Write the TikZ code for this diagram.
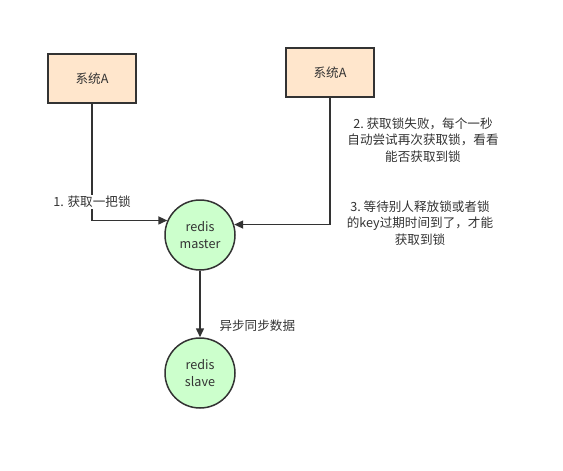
\documentclass[tikz,border=0pt]{standalone}
\usepackage{fontspec}
\setmainfont{Noto Sans CJK SC}
\usepackage{xcolor}
\usepackage{tikz}
\usetikzlibrary{arrows.meta}

\definecolor{boxfill}{HTML}{FFE6CC}
\definecolor{nodefill}{HTML}{CCFFCC}
\definecolor{linegray}{HTML}{333333}

\begin{document}
\begin{tikzpicture}[x=1pt,y=-1pt,
        >={Triangle[length=9pt,width=8pt]},
        every node/.style={text=linegray,font=\fontsize{12.6}{16.8}\selectfont},
        sysbox/.style={draw=linegray,line width=1.5pt,fill=boxfill,minimum width=88pt,minimum height=49pt},
        rnode/.style={circle,draw=linegray,line width=1.5pt,fill=nodefill,minimum size=70pt,align=center},
        conn/.style={draw=linegray,line width=1.5pt}]
        \useasboundingbox (0,0) rectangle (563,471);

        \node[sysbox] (sysA) at (92,78.5) {系统A};
        \node[sysbox] (sysB) at (330,72.5) {系统A};

        \node[rnode] (master) at (200,235) {redis\\master};
        \node[rnode] (slave) at (200,373) {redis\\slave};

        \draw[conn,->] (sysA.south) |- (master.156);
        \draw[conn,->] (sysB.south) |- (master.17);
        \draw[conn,->] (master.south) -- (slave.north);

        \node[fill=white,inner sep=1pt] (lbl1) at (92,202) {1. 获取一把锁};
        \node[align=center] (lbl2) at (423,140) {2.\ 获取锁失败，每个一秒\\自动尝试再次获取锁，看看\\能否获取到锁};
        \node[align=center] (lbl3) at (420,223) {3.\ 等待别人释放锁或者锁\\的key过期时间到了，才能\\获取到锁};
        \node[anchor=west] (lbl4) at (216,326) {异步同步数据};
    \end{tikzpicture}
\end{document}
